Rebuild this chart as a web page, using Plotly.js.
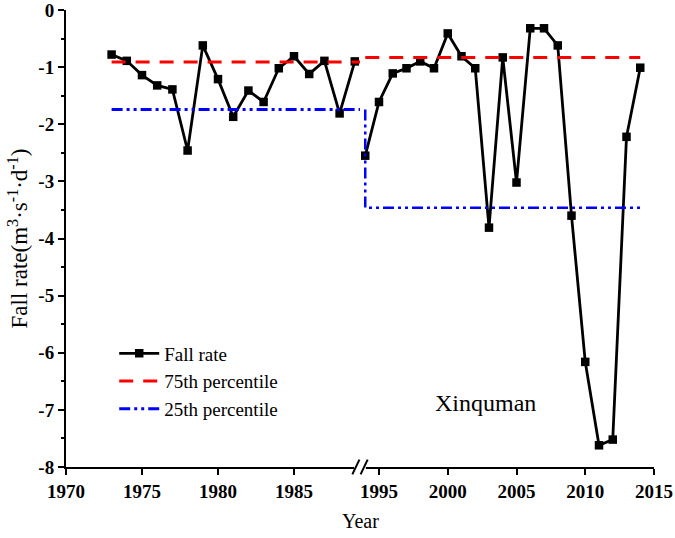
<!DOCTYPE html>
<html>
<head>
<meta charset="utf-8">
<script src="https://cdn.plot.ly/plotly-3.0.1.min.js"></script>
<style>html,body{margin:0;padding:0;background:#fff;}#chart{width:675px;height:538px;}</style>
</head>
<body>
<div id="chart"></div>
<script>
// Segment 1 (before the axis break)
var yearsA = [1973,1974,1975,1976,1977,1978,1979,1980,1981,1982,1983,1984,1985,1986,1987,1988,1989];
var fallA  = [-0.78,-0.89,-1.14,-1.32,-1.39,-2.46,-0.62,-1.21,-1.87,-1.41,-1.61,-1.02,-0.81,-1.12,-0.89,-1.81,-0.90];
// Segment 2 (after the axis break)
var yearsB = [1994,1995,1996,1997,1998,1999,2000,2001,2002,2003,2004,2005,2006,2007,2008,2009,2010,2011,2012,2013,2014];
var fallB  = [-2.55,-1.61,-1.11,-1.02,-0.90,-1.02,-0.41,-0.81,-1.02,-3.81,-0.83,-3.02,-0.32,-0.32,-0.62,-3.60,-6.16,-7.62,-7.52,-2.22,-1.01];
// Percentiles
var p75A = -0.91, p25A = -1.74;
var p75B = -0.83, p25B = -3.46;
var xTicksA = [1970,1975,1980,1985];
var xTicksB = [1995,2000,2005,2010,2015];
var yTicks = [0,-1,-2,-3,-4,-5,-6,-7,-8];
var yTickLabels = ["0","-1","-2","-3","-4","-5","-6","-7","-8"];

var serif = "Liberation Serif";
var redDash = "14px,10px";
var blueDash = "11px,4px,3px,4px,3px,4px";

var endA = 1989.6;

var traces = [
  {x: yearsA, y: fallA, xaxis:'x', yaxis:'y', mode:'lines+markers', name:'Fall rate', legendrank:1,
   line:{color:'#000', width:2.8}, marker:{symbol:'square', size:8.5, color:'#000'}},
  {x: yearsB, y: fallB, xaxis:'x2', yaxis:'y', mode:'lines+markers', name:'Fall rate', showlegend:false,
   line:{color:'#000', width:2.8}, marker:{symbol:'square', size:8.5, color:'#000'}},
  {x: [yearsA[0], endA], y: [p75A, p75A], xaxis:'x', yaxis:'y', mode:'lines', name:'75th percentile', legendrank:2,
   line:{color:'#ff0000', width:3, dash:redDash}},
  {x: [yearsB[0], yearsB[yearsB.length-1]], y: [p75B, p75B], xaxis:'x2', yaxis:'y', mode:'lines', showlegend:false,
   line:{color:'#ff0000', width:3, dash:redDash}},
  {x: [yearsA[0], endA], y: [p25A, p25A], xaxis:'x', yaxis:'y', mode:'lines', name:'25th percentile', legendrank:3,
   line:{color:'#0000ff', width:3, dash:blueDash}},
  {x: [yearsB[0], yearsB[0], yearsB[yearsB.length-1]], y: [p25A, p25B, p25B], xaxis:'x2', yaxis:'y', mode:'lines', showlegend:false,
   line:{color:'#0000ff', width:2.5, dash:blueDash}}
];

var axisCommon = {
  showline:true, linecolor:'#000', linewidth:2, ticks:'outside', ticklen:6, tickwidth:2, tickcolor:'#000',
  showgrid:false, zeroline:false, mirror:false, ticklabeloverflow:'allow',
  tickfont:{family:serif, size:19, color:'#000', weight:'bold'}
};

var layout = {
  width:675, height:538,
  margin:{l:66, r:21, t:10, b:71},
  paper_bgcolor:'#fff', plot_bgcolor:'#fff',
  font:{family:serif, color:'#000'},
  showlegend:true,
  legend:{x:0.082, y:0.29, xanchor:'left', yanchor:'top', bgcolor:'rgba(0,0,0,0)',
          font:{family:serif, size:19, color:'#000'}, tracegroupgap:0, itemwidth:40},
  xaxis: Object.assign({}, axisCommon, {domain:[0,0.5], range:[1970, 1970+294/15.2], tickvals:xTicksA, anchor:'y'}),
  xaxis2: Object.assign({}, axisCommon, {domain:[0.5,1], range:[2015-294/13.75, 2015], tickvals:xTicksB, anchor:'y'}),
  yaxis: Object.assign({}, axisCommon, {range:[-8,0], tickvals:yTicks, ticktext:yTickLabels, anchor:'x',
    minor:{dtick:0.5, ticks:'outside', ticklen:3, tickwidth:2, tickcolor:'#000'},
    title:{text:'Fall rate(m<sup>3</sup>·s<sup>-1</sup>·d<sup>-1</sup>)', font:{family:serif, size:23, color:'#000'}, standoff:4}}),
  annotations:[
    {xref:'paper', yref:'paper', x:0.5, y:-0.118, xanchor:'center', yanchor:'middle', showarrow:false,
     text:'Year', font:{family:serif, size:20, color:'#000'}},
    {xref:'paper', yref:'paper', x:0.713, y:0.14, xanchor:'center', yanchor:'middle', showarrow:false,
     text:'Xinquman', font:{family:serif, size:24, color:'#000'}}
  ],
  shapes:[
    {type:'rect', xref:'paper', yref:'paper', x0:0.49, x1:0.51, y0:-0.006, y1:0.006, fillcolor:'#fff', line:{width:0}, layer:'above'},
    {type:'line', xref:'paper', yref:'paper', x0:0.487, x1:0.499, y0:-0.016, y1:0.016, line:{color:'#000', width:2}, layer:'above'},
    {type:'line', xref:'paper', yref:'paper', x0:0.501, x1:0.513, y0:-0.016, y1:0.016, line:{color:'#000', width:2}, layer:'above'}
  ]
};

Plotly.newPlot('chart', traces, layout, {displayModeBar:false, staticPlot:true});
</script>
</body>
</html>
